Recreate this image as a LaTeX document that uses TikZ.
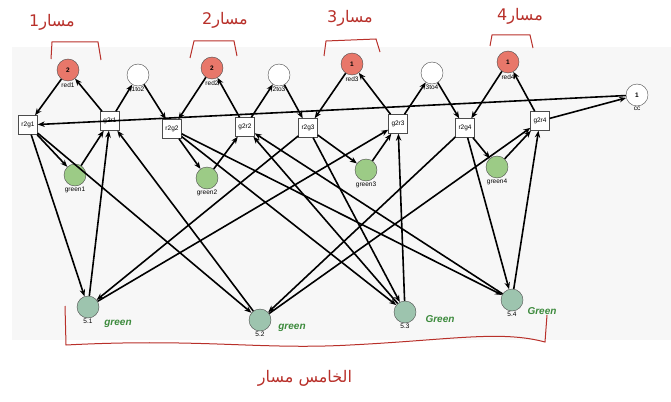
\documentclass[tikz,border=0pt]{standalone}
\usepackage{fontspec}
\setmainfont{Liberation Sans}
\newfontfamily\arabfont[Script=Arabic]{DejaVu Sans}
\usetikzlibrary{arrows.meta}
\definecolor{redpl}{HTML}{E8776A}
\definecolor{greenpl}{HTML}{9CCB86}
\definecolor{fivepl}{HTML}{9DC4AE}
\definecolor{inkred}{HTML}{B8302A}
\definecolor{inkgreen}{HTML}{3C8A3C}

\tikzset{
  place/.style={circle,draw=black!70,thin,minimum size=22pt,inner sep=0pt,font=\fontsize{6.5}{7}\selectfont\bfseries},
  trans/.style={rectangle,draw=black!70,thin,fill=white,minimum size=19pt,inner sep=1pt,font=\fontsize{6.5}{7}\selectfont},
  plabel/.style={font=\fontsize{6.5}{7}\selectfont,inner sep=0pt},
  arc/.style={-{Stealth[length=7pt,width=5.5pt]},line width=1.6pt},
  hand/.style={font=\arabfont\fontsize{16}{18}\selectfont,text=inkred},
  handg/.style={font=\itshape\bfseries\fontsize{10}{11}\selectfont,text=inkgreen},
  ink/.style={draw=inkred,line width=1pt}
}

\begin{document}
\begin{tikzpicture}[x=1pt,y=-1pt]
  \useasboundingbox (0,0) rectangle (671,401);
  \fill[black!3] (12,47) rectangle (671,340);

  % places
  \node[place,fill=redpl] (red1) at (68,70) {2};
  \node[place,fill=white] (p1to2) at (138,75) {};
  \node[place,fill=redpl] (red2) at (212,68) {2};
  \node[place,fill=white] (p2to3) at (279,75) {};
  \node[place,fill=redpl] (red3) at (352,64) {1};
  \node[place,fill=white] (p3to4) at (432,73) {};
  \node[place,fill=redpl] (red4) at (508,62) {1};
  \node[place,fill=white] (cc) at (637,95) {1};
  \node[place,fill=greenpl] (green1) at (75,175) {};
  \node[place,fill=greenpl] (green2) at (207,178) {};
  \node[place,fill=greenpl] (green3) at (366,170) {};
  \node[place,fill=greenpl] (green4) at (497,167) {};
  \node[place,fill=fivepl] (f1) at (88,307) {};
  \node[place,fill=fivepl] (f2) at (260,320) {};
  \node[place,fill=fivepl] (f3) at (405,312) {};
  \node[place,fill=fivepl] (f4) at (512,300) {};

  % transitions
  \node[trans] (r2g1) at (28,125) {r2g1};
  \node[trans] (g2r1) at (110,121) {g2r1};
  \node[trans] (r2g2) at (172,129) {r2g2};
  \node[trans] (g2r2) at (245,127) {g2r2};
  \node[trans] (r2g3) at (308,128) {r2g3};
  \node[trans] (g2r3) at (398,124) {g2r3};
  \node[trans] (r2g4) at (465,128) {r2g4};
  \node[trans] (g2r4) at (540,121) {g2r4};

  % labels
  \foreach \n/\t in {red1/red1,p1to2/1to2,red2/red2,p2to3/2to3,red3/red3,p3to4/3to4,red4/red4,cc/cc,
    green1/green1,green2/green2,green3/green3,green4/green4,f1/5.1,f2/5.2,f3/5.3,f4/5.4}
    \node[plabel,below=1pt] (l\n) at (\n.south) {\t};

  % arcs
  \foreach \from/\to in {red1/r2g1,g2r1/red1,g2r1/p1to2,p1to2/r2g2,red2/r2g2,g2r2/red2,g2r2/p2to3,p2to3/r2g3,
    red3/r2g3,g2r3/red3,g2r3/p3to4,p3to4/r2g4,red4/r2g4,g2r4/red4,g2r4/cc,cc/r2g1,
    r2g1/green1,green1/g2r1,r2g2/green2,green2/g2r2,r2g3/green3,green3/g2r3,r2g4/green4,green4/g2r4,
    r2g1/f1,f1/g2r1,r2g1/f2,f2/g2r1,r2g2/f3,r2g2/f4,f3/g2r2,f4/g2r2,
    r2g3/f1,r2g3/f3,f1/g2r3,f3/g2r3,r2g4/f2,r2g4/f4,f2/g2r4,f4/g2r4}
    \draw[arc] (\from) -- (\to);

  % handwritten notes
  \node[hand] (m1) at (52,22) {مسار1};
  \node[hand] (m2) at (225,20) {مسار2};
  \node[hand] (m3) at (350,18) {مسار3};
  \node[hand] (m4) at (520,16) {مسار4};
  \draw[ink] (51,59) -- (52,42) -- (98,42) -- (101,60);
  \draw[ink] (190,58) -- (194,41) -- (234,41) -- (237,56);
  \draw[ink] (324,56) -- (326,41) -- (376,39) -- (380,52);
  \draw[ink] (490,46) -- (492,35) -- (530,35) -- (533,48);
  \draw[ink] (65,306) -- (66,345) .. controls (200,338) and (260,350) .. (350,345)
    .. controls (450,340) and (500,330) .. (545,342) -- (547,315);
  \node[hand] (m5) at (305,378) {مسار الخامس};
  \node[handg] (gn1) at (118,324) {green};
  \node[handg] (gn2) at (292,328) {green};
  \node[handg] (gn3) at (440,319) {Green};
  \node[handg] (gn4) at (542,311) {Green};
\end{tikzpicture}
\end{document}
